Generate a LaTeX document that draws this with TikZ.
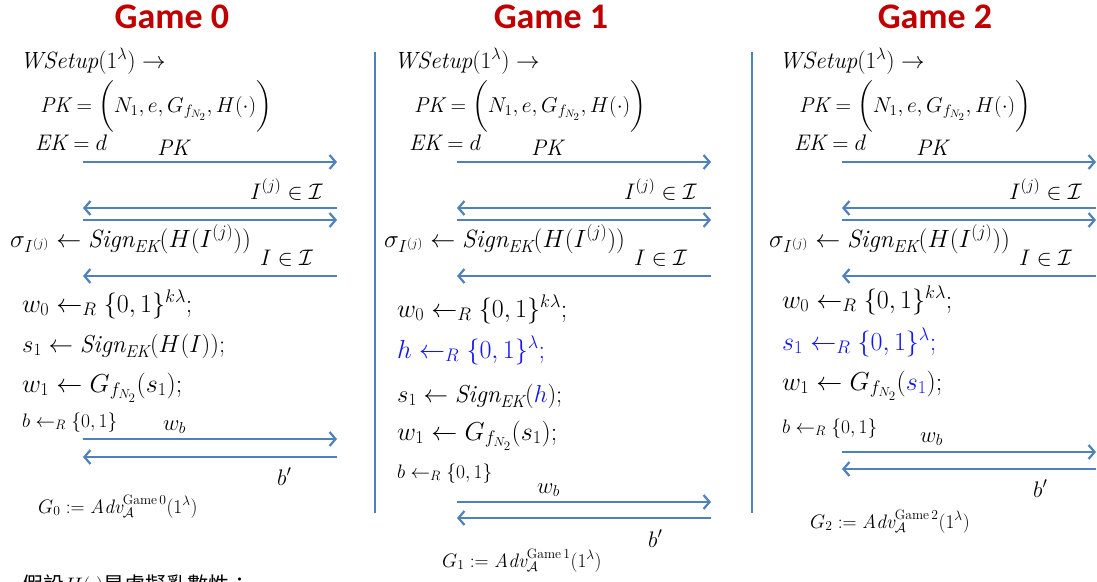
\RequirePackage{fix-cm}
\documentclass[tikz,border=0pt]{standalone}
\usepackage{fontspec}
\usepackage{amsmath,amssymb}
\usetikzlibrary{arrows.meta,positioning}
\newfontfamily\titlefont{Carlito}
\newfontfamily\cjk{Noto Sans CJK TC}
\definecolor{gamered}{RGB}{192,0,0}
\definecolor{msgblue}{RGB}{79,129,189}
\definecolor{hopblue}{RGB}{20,20,245}

\tikzset{
  gametitle/.style={anchor=base, inner sep=0pt, text=gamered,
                    font=\titlefont\bfseries\fontsize{36}{36}\selectfont},
  eqn/.style={anchor=base west, inner sep=0pt, font=\fontsize{22.5}{22.5}\selectfont},
  bigeqn/.style={anchor=base west, inner sep=0pt, font=\fontsize{26}{26}\selectfont},
  smalleqn/.style={anchor=base west, inner sep=0pt, font=\fontsize{19.5}{19.5}\selectfont},
  msgarrow/.style={draw=msgblue, line width=2.2pt, -{Straight Barb[length=6pt,width=14pt]}},
  divider/.style={draw=msgblue, line width=1.4pt}
}

\begin{document}
\begin{tikzpicture}[x=1pt, y=-1pt]
  \useasboundingbox (0,0) rectangle (1097,581);

  % titles
  \node[gametitle] (title0) at (172,28) {Game 0};
  \node[gametitle] (title1) at (551,28) {Game 1};
  \node[gametitle] (title2) at (935,28) {Game 2};

  % column separators
  \coordinate (sepA top) at (375,52);
  \coordinate (sepA bot) at (375,513);
  \coordinate (sepB top) at (752,52);
  \coordinate (sepB bot) at (752,513);
  \draw[divider] (sepA top) -- (sepA bot);
  \draw[divider] (sepB top) -- (sepB bot);

  % setup and signing queries, the same in every game
  \foreach \c/\dx in {0/0, 1/374, 2/759} {
    \node[eqn, font=\fontsize{23.5}{23.5}\selectfont] (setup\c) at (20+\dx,68)
      {$\mathit{WSetup}(1^{\lambda}) \rightarrow$};
    \node[eqn, font=\fontsize{21.5}{21.5}\selectfont] (pk\c) at (40+\dx,112)
      {$\mathit{PK} = \biggl( N_1, e, G_{f_{N_2}}, H(\cdot) \biggr)$};
    \node[eqn] (ek\c) at (35+\dx,150) {$\mathit{EK} = d$};
    \node[eqn] (pklab\c) at (157+\dx,155) {$\mathit{PK}$};
    \coordinate (pkL\c) at (83+\dx,162);
    \coordinate (pkR\c) at (337+\dx,162);
    \draw[msgarrow] (pkL\c) -- (pkR\c);
    \node[eqn] (qlab\c) at (250+\dx,199) {$I^{(j)} \in \mathcal{I}$};
    \coordinate (qL\c) at (83+\dx,208);
    \coordinate (qR\c) at (337+\dx,208);
    \draw[msgarrow] (qR\c) -- (qL\c);
    \coordinate (aL\c) at (83+\dx,220);
    \coordinate (aR\c) at (337+\dx,220);
    \draw[msgarrow] (aL\c) -- (aR\c);
    \node[eqn, font=\fontsize{25}{25}\selectfont] (sig\c) at (10+\dx,247)
      {$\sigma_{I^{(j)}} \leftarrow \mathit{Sign}_{\mathit{EK}}(H(I^{(j)}))$};
    \node[eqn] (clab\c) at (260+\dx,265) {$I \in \mathcal{I}$};
    \coordinate (cL\c) at (83+\dx,276);
    \coordinate (cR\c) at (337+\dx,276);
    \draw[msgarrow] (cR\c) -- (cL\c);
  }

  % Game 0 challenge
  \node[bigeqn] (w0g0) at (22,312) {$w_0 \leftarrow_R \{0,1\}^{k\lambda};$};
  \node[bigeqn, font=\fontsize{24.5}{24.5}\selectfont] (s1g0) at (22,352)
    {$s_1 \leftarrow \mathit{Sign}_{\mathit{EK}}(H(I));$};
  \node[bigeqn] (w1g0) at (22,392) {$w_1 \leftarrow G_{f_{N_2}}(s_1);$};
  \node[smalleqn] (bg0) at (22,427) {$b \leftarrow_R \{0,1\}$};
  \node[eqn] (wblab0) at (163,430) {$w_b$};
  \coordinate (wbL0) at (83,439);
  \coordinate (wbR0) at (337,439);
  \draw[msgarrow] (wbL0) -- (wbR0);
  \coordinate (bpL0) at (83,457);
  \coordinate (bpR0) at (337,457);
  \draw[msgarrow] (bpR0) -- (bpL0);
  \node[eqn] (bplab0) at (277,485) {$b'$};
  \node[smalleqn] (adv0) at (38,513) {$G_0 := \mathit{Adv}_{\mathcal{A}}^{\mathrm{Game\,0}}(1^{\lambda})$};
  \node[anchor=base west, inner sep=0pt, font=\fontsize{21}{21}\selectfont] (note) at (22,592)
    {{\cjk 假設}$H(\cdot)${\cjk 是虛擬亂數性：}};

  % Game 1 challenge
  \node[bigeqn] (w0g1) at (397,317) {$w_0 \leftarrow_R \{0,1\}^{k\lambda};$};
  \node[bigeqn, text=hopblue] (hg1) at (397,358) {$h \leftarrow_R \{0,1\}^{\lambda};$};
  \node[bigeqn, font=\fontsize{24.5}{24.5}\selectfont] (s1g1) at (397,402)
    {$s_1 \leftarrow \mathit{Sign}_{\mathit{EK}}(\textcolor{hopblue}{h});$};
  \node[bigeqn] (w1g1) at (397,440) {$w_1 \leftarrow G_{f_{N_2}}(s_1);$};
  \node[smalleqn] (bg1) at (397,478) {$b \leftarrow_R \{0,1\}$};
  \node[eqn] (wblab1) at (537,493) {$w_b$};
  \coordinate (wbL1) at (457,502);
  \coordinate (wbR1) at (711,502);
  \draw[msgarrow] (wbL1) -- (wbR1);
  \coordinate (bpL1) at (457,518);
  \coordinate (bpR1) at (711,518);
  \draw[msgarrow] (bpR1) -- (bpL1);
  \node[eqn] (bplab1) at (648,547) {$b'$};
  \node[smalleqn] (adv1) at (442,567) {$G_1 := \mathit{Adv}_{\mathcal{A}}^{\mathrm{Game\,1}}(1^{\lambda})$};

  % Game 2 challenge
  \node[bigeqn] (w0g2) at (782,308) {$w_0 \leftarrow_R \{0,1\}^{k\lambda};$};
  \node[bigeqn, text=hopblue] (s1g2) at (782,350) {$s_1 \leftarrow_R \{0,1\}^{\lambda};$};
  \node[bigeqn] (w1g2) at (782,390) {$w_1 \leftarrow G_{f_{N_2}}(\textcolor{hopblue}{s_1});$};
  \node[smalleqn] (bg2) at (782,433) {$b \leftarrow_R \{0,1\}$};
  \node[eqn] (wblab2) at (920,442) {$w_b$};
  \coordinate (wbL2) at (842,452);
  \coordinate (wbR2) at (1096,452);
  \draw[msgarrow] (wbL2) -- (wbR2);
  \coordinate (bpL2) at (842,469);
  \coordinate (bpR2) at (1096,469);
  \draw[msgarrow] (bpR2) -- (bpL2);
  \node[eqn] (bplab2) at (1033,497) {$b'$};
  \node[smalleqn] (adv2) at (810,528) {$G_2 := \mathit{Adv}_{\mathcal{A}}^{\mathrm{Game\,2}}(1^{\lambda})$};
\end{tikzpicture}
\end{document}
